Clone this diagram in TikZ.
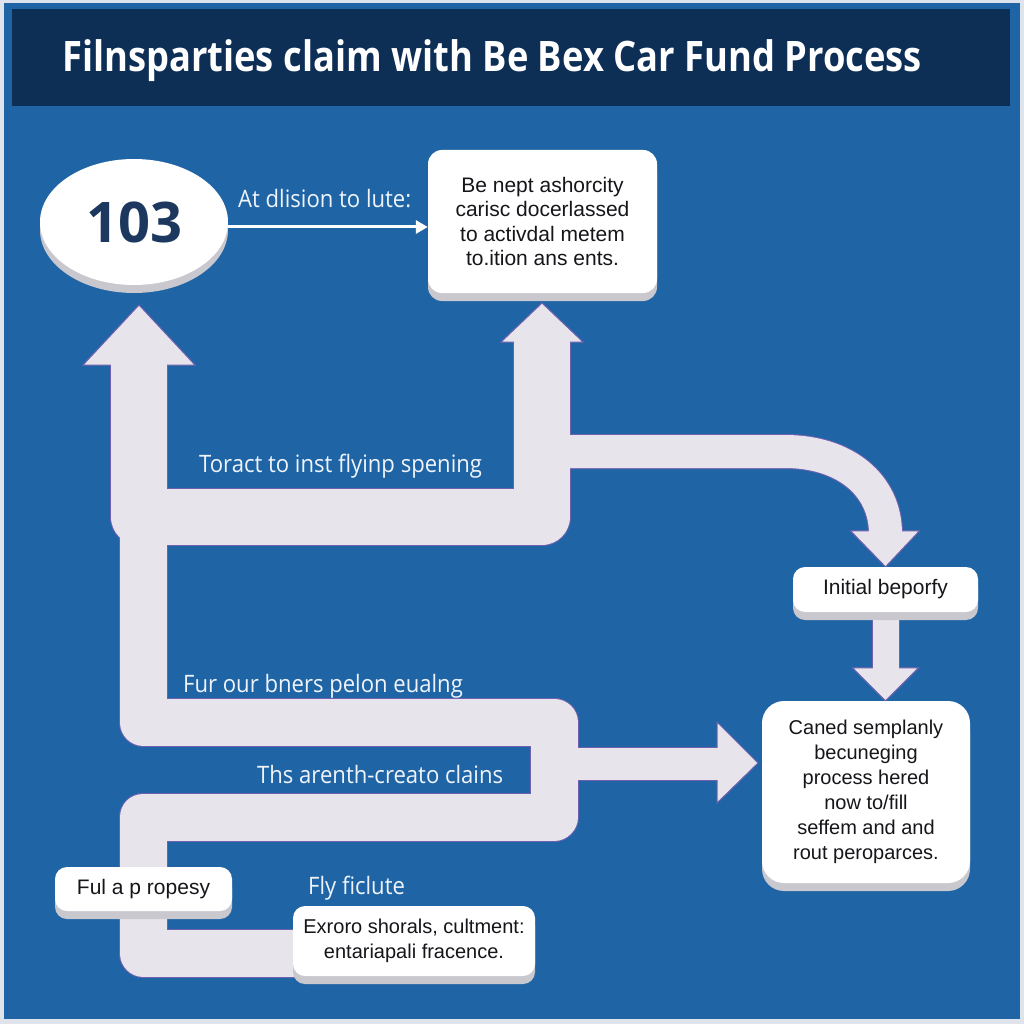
\documentclass[tikz,border=0pt]{standalone}
\usepackage{fontspec}
\setmainfont{Open Sans}
\newfontfamily\labelfont[FakeStretch=0.92]{Open Sans}
\newfontfamily\titlefont[FakeStretch=0.865]{Open Sans}
\newfontfamily\cardfont{Liberation Sans}
\usetikzlibrary{arrows.meta, positioning, shapes.geometric, shadows, calc, backgrounds}

\definecolor{BgBlue}{RGB}{31, 101, 165}
\definecolor{TitleNavy}{RGB}{13, 46, 85}
\definecolor{FrameGray}{RGB}{222, 227, 236}
\definecolor{PipeGray}{RGB}{231, 229, 235}
\definecolor{PipeEdge}{RGB}{112, 96, 176}
\definecolor{ShadeGray}{RGB}{200, 200, 206}
\definecolor{NumNavy}{RGB}{28, 56, 94}
\definecolor{TextDark}{RGB}{22, 22, 26}
\definecolor{LabelWhite}{RGB}{240, 244, 250}

\tikzset{
  card/.style={fill=white, rounded corners=14pt, align=center, text=TextDark,
    font=\cardfont\fontsize{20}{25}\selectfont,
    drop shadow={shadow xshift=0pt, shadow yshift=-8pt, fill=ShadeGray, opacity=1}},
  bubble/.style={ellipse, fill=white, inner sep=0pt, text=NumNavy,
    font=\bfseries\fontsize{56}{60}\selectfont,
    drop shadow={shadow xshift=0pt, shadow yshift=-8pt, fill=ShadeGray, opacity=1}},
  onblue/.style={anchor=base west, inner sep=0pt, text=LabelWhite,
    font=\labelfont\fontsize{24}{28}\selectfont},
  flowline/.style={draw=white, line width=3pt, -{Triangle[length=12pt, width=13pt]}},
  pipehead/.style={fill=PipeGray, draw=PipeEdge, line width=1pt, line join=miter},
}

% pipe network, drawn once for the rim and once for the fill
\newcommand{\pipeset}[2]{%
  \draw[#1, line join=round, line width=56pt+#2] (139,362) |- (542,517) -- (542,339);
  \draw[#1, line width=33pt+#2] (560,451.5) -- (785,451.5)
    .. controls (845,451.5) and (885.5,485) .. ($(init.north)+(0,-33)$);
  \draw[#1, line join=round, line width=47pt+#2] (143,517) |- (554,722) -- (554,817) -| (143,953) -- (330,953);
  \draw[#1, line width=32pt+#2] (570,764) -- (720,764);
  \draw[#1, line width=26pt+#2] (init.south) -- ($(init.south |- big.north)+(0,-30)$);
}

\begin{document}
\begin{tikzpicture}[x=1pt, y=-1pt]
  \useasboundingbox (0,0) rectangle (1024,1024);

  % Frame and title bar
  \begin{scope}[on background layer]
    \fill[FrameGray] (0,0) rectangle (1024,1024);
    \fill[BgBlue] (4,3) rectangle (1020,1019);
    \fill[TitleNavy] (12,9) rectangle (1010,106);
  \end{scope}
  \node[anchor=base west, inner sep=0pt, text=white,
    font=\titlefont\bfseries\fontsize{42}{46}\selectfont] (title) at (62,72)
    {Filnsparties claim with Be Bex Car Fund Process};

  % Steps
  \node[bubble, minimum width=188pt, minimum height=126pt] (n103) at (134,222) {103};
  \node[card, font=\cardfont\fontsize{21}{24.5}\selectfont, minimum width=229pt, minimum height=143pt] (topbox) at (542.5,221.5)
    {Be nept ashorcity\\carisc docerlassed\\to activdal metem\\to.ition ans ents.};
  \node[card, font=\cardfont\fontsize{21}{25}\selectfont, rounded corners=12pt, minimum width=185pt, minimum height=45pt] (init) at (885.5,589.5)
    {Initial beporfy};
  \node[card, rounded corners=22pt, minimum width=208pt, minimum height=182pt] (big) at (866,792)
    {Caned semplanly\\becuneging\\process hered\\now to/fill\\seffem and and\\rout peroparces.};
  \node[card, font=\cardfont\fontsize{21}{25}\selectfont, rounded corners=12pt, minimum width=177pt, minimum height=44pt] (ful) at (143.5,889)
    {Ful a p ropesy};
  \node[card, rounded corners=12pt, minimum width=242pt, minimum height=70pt] (exroro) at (414,941)
    {Exroro shorals, cultment:\\entariapali fracence.};

  % Labels on the blue
  \node[onblue] (lblAt) at (238,208) {At dlision to lute:};
  \node[onblue] (lblToract) at (199,472) {Toract to inst flyinp spening};
  \node[onblue] (lblFur) at (183,692) {Fur our bners pelon eualng};
  \node[onblue] (lblThs) at (257,783) {Ths arenth-creato clains};
  \node[onblue] (lblFly) at (308,894) {Fly ficlute};

  \draw[flowline] ([yshift=-5pt]n103.east) -- ([yshift=-5pt]n103.east -| topbox.west);

  % Pipes, behind the boxes
  \begin{scope}[on background layer]
    \pipeset{PipeEdge}{2pt}
    \foreach \tx/\ty/\lx/\ly/\rx/\ry in {139/305/83/365/195/365, 542/303/501/342/583/342, 758/763/717/722/717/803} {
      \filldraw[pipehead] (\tx,\ty) -- (\lx,\ly) -- (\rx,\ry) -- cycle;
    }
    \filldraw[pipehead] (init.north) -- ($(init.north)+(-35,-36)$) -- ($(init.north)+(34,-36)$) -- cycle;
    \filldraw[pipehead] (init.south |- big.north) -- ($(init.south |- big.north)+(-33,-33)$) -- ($(init.south |- big.north)+(33,-33)$) -- cycle;
    \pipeset{PipeGray}{0pt}
  \end{scope}
\end{tikzpicture}
\end{document}
